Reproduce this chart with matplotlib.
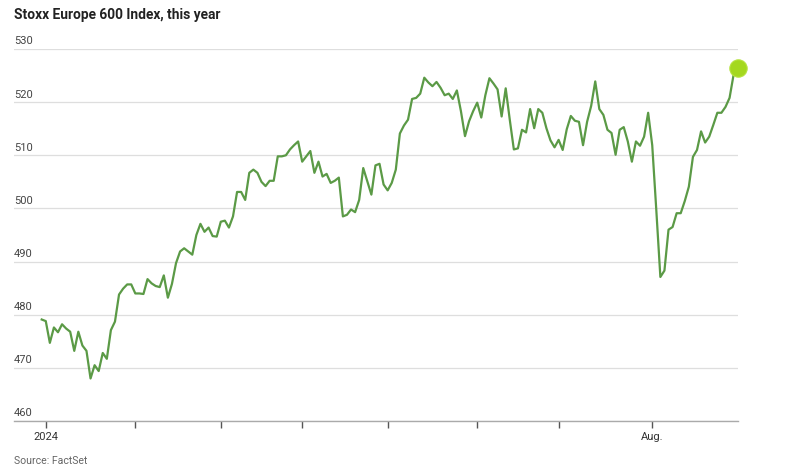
import matplotlib
matplotlib.use("Agg")
import matplotlib.pyplot as plt
import matplotlib.transforms as mtransforms
import numpy as np
import pandas as pd

# ---- data -------------------------------------------------------------
title = "Stoxx Europe 600 Index, this year"
source = "Source: FactSet"

holidays = ["2024-03-29", "2024-04-01", "2024-05-01"]
dates = pd.DatetimeIndex(["2023-12-29"]).append(
    pd.bdate_range("2024-01-02", "2024-08-30").difference(pd.DatetimeIndex(holidays)))

values = [
    479.1, 478.8, 474.7, 477.6, 476.7, 478.2, 477.4, 476.8, 473.2, 476.8,
    474.2, 473.2, 468.0, 470.5, 469.4, 472.8, 471.7, 477.1, 478.7, 483.8,
    484.9, 485.7, 485.7, 484.0, 484.0, 483.9, 486.7, 485.9, 485.4,
    485.2, 487.4, 483.2, 485.8, 489.7, 491.9, 492.5, 491.9, 491.3, 495.0,
    497.1, 495.6, 496.4, 494.8, 494.7, 497.5, 497.7, 496.4, 498.5, 503.1,
    503.1, 501.6, 506.7, 507.3, 506.7, 505.0, 504.2,
    505.2, 505.2, 509.8, 509.8, 510.0, 511.1, 511.9, 512.6, 508.8, 509.8,
    510.8, 506.7, 508.8, 506.0, 506.5, 504.8, 505.2, 505.8, 498.5, 498.8,
    499.8, 499.3, 501.6, 507.6, 505.1, 502.6, 508.1, 508.4, 504.5,
    503.4, 504.8, 507.3, 514.1, 515.6, 516.7, 520.6, 520.8, 521.6, 524.6,
    523.7, 523.0, 523.8, 522.7, 521.3, 521.6, 520.6, 522.2, 518.3, 513.6,
    516.4, 518.3, 519.9, 517.1, 521.3, 524.5, 523.5, 522.4,
    517.3, 522.6, 516.7, 511.1, 511.3, 514.8, 514.3, 518.7, 515.1, 518.7,
    518.0, 515.1, 512.8, 511.5, 512.9, 511.0, 514.9, 517.4, 516.5, 516.3,
    511.9, 516.3, 519.3, 523.9, 518.7, 517.6, 514.8, 514.2,
    510.1, 514.8, 515.3, 512.6, 508.8, 512.6, 511.8, 513.5, 518.0, 511.9,
    499.7, 487.1, 488.3, 496.0, 496.5, 499.1, 499.1, 501.4, 504.1, 509.7,
    511.0, 514.5, 512.4, 513.5, 515.7, 518.0, 518.0, 519.1, 520.8, 525.2,
    526.5,
]

y_ticks = [460, 470, 480, 490, 500, 510, 520, 530]
month_labels = {"2024-01": "2024", "2024-08": "Aug."}

# ---- figure -----------------------------------------------------------
W, H = 800, 472
fig = plt.figure(figsize=(W / 100, H / 100), dpi=100)
fig.patch.set_facecolor("white")

n = len(dates)
x = np.arange(n)
px_per = (737.7 - 41.7) / (n - 1)
x_left = -(41.7 - 14) / px_per

ax = fig.add_axes([14 / W, (H - 421) / H, (737.7 - 14) / W, (421 - 49) / H])
ax.set_xlim(x_left, n - 1)
ax.set_ylim(460, 530)

# grid
ax.set_yticks(y_ticks)
ax.yaxis.grid(True, color="#dedede", lw=0.9)
ax.set_axisbelow(True)
ax.tick_params(axis="y", length=0, labelleft=False)

tick_font = ["Roboto", "DejaVu Sans"]
trans = mtransforms.offset_copy(ax.get_yaxis_transform(), fig=fig, x=0, y=2.5, units="dots")
for v in y_ticks:
    ax.text(0, v, str(v), transform=trans, ha="left", va="bottom",
            fontsize=8, color="#444444", family=tick_font)

for side in ["left", "right", "top"]:
    ax.spines[side].set_visible(False)
ax.spines["bottom"].set_color("#aaaaaa")
ax.spines["bottom"].set_linewidth(1.0)

# month ticks at first trading day of each month
s = pd.Series(x, index=dates)
first_idx = s.groupby(dates.to_period("M")).first()
first_idx = first_idx[first_idx.index >= pd.Period("2024-01", "M")]
ax.set_xticks(first_idx.values)
ax.set_xticklabels([month_labels.get(str(p), "") for p in first_idx.index],
                   family=tick_font, fontsize=8, color="#333333")
ax.tick_params(axis="x", length=5, width=1, color="#555555", pad=3)

# line + end dot
ax.plot(x, values, color="#5b9a46", lw=1.6, solid_joinstyle="round", zorder=3)
ax.plot(x[-1], values[-1], "o", ms=12.5, color="#a4d81f", mec="#b6e340",
        mew=0.8, zorder=4, clip_on=False)

fig.text(14 / W, 1 - 15 / H, title, fontsize=9.9, fontweight="bold",
         color="#222222", va="center", ha="left", family=["Roboto", "DejaVu Sans"])
fig.text(14 / W, 1 - 461 / H, source, fontsize=7.6, color="#666666",
         va="center", ha="left", family=tick_font)

fig.savefig("out.png", dpi=100, facecolor="white")
